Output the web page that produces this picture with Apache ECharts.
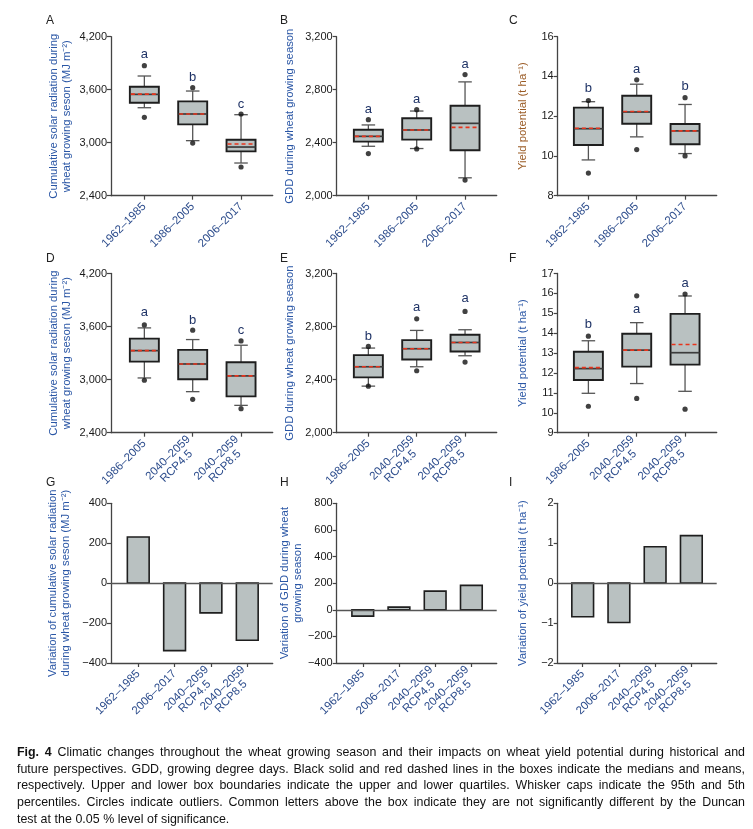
<!DOCTYPE html>
<html><head><meta charset="utf-8">
<script src="https://cdn.jsdelivr.net/npm/echarts@6/dist/echarts.min.js"></script>
<style>html,body{margin:0;padding:0;background:#fff}#c{width:753px;height:829px}</style>
</head><body><div id="c"></div>
<script>
// ---------- categories ----------
const histCats = ['1962–1985', '1986–2005', '2006–2017'];
const futCats = ['1986–2005', '2040–2059\nRCP4.5', '2040–2059\nRCP8.5'];
const varCats = ['1962–1985', '2006–2017', '2040–2059\nRCP4.5', '2040–2059\nRCP8.5'];

// ---------- box statistics: [5th pct, Q1, median, Q3, 95th pct, mean] ----------
const solarHistBox = [[3396, 3453, 3547, 3634, 3755, 3550], [3023, 3208, 3325, 3468, 3585, 3325], [2770, 2902, 2951, 3034, 3317, 2985]];
const gddHistBox = [[2373, 2408, 2448, 2498, 2534, 2448], [2356, 2423, 2496, 2584, 2639, 2496], [2135, 2343, 2546, 2679, 2859, 2516]];
const yieldHistBox = [[9.80, 10.55, 11.37, 12.43, 12.73, 11.39], [10.96, 11.62, 12.21, 13.03, 13.61, 12.24], [10.12, 10.59, 11.26, 11.61, 12.59, 11.26]];
const solarFutBox = [[3019, 3204, 3328, 3464, 3585, 3328], [2864, 3004, 3177, 3336, 3453, 3177], [2709, 2811, 3042, 3196, 3389, 3042]];
const gddFutBox = [[2351, 2417, 2497, 2585, 2638, 2497], [2497, 2552, 2633, 2698, 2771, 2633], [2580, 2612, 2680, 2738, 2776, 2680]];
const yieldFutBox = [[10.98, 11.65, 12.22, 13.07, 13.62, 12.27], [11.47, 12.32, 13.15, 13.97, 14.53, 13.15], [11.08, 12.42, 13.02, 14.97, 15.87, 13.43]];

// ---------- outliers (per category) ----------
const solarHistOut = [[3872, 3287], [3623, 2996], [3325, 2725]];
const gddHistOut = [[2574, 2318], [2649, 2353], [2914, 2118]];
const yieldHistOut = [[12.79, 9.14], [13.83, 10.32], [12.93, 10.00]];
const solarFutOut = [[3619, 2993], [3559, 2777], [3438, 2672]];
const gddFutOut = [[2650, 2351], [2858, 2467], [2914, 2532]];
const yieldFutOut = [[13.85, 10.33], [15.88, 10.72], [15.97, 10.18]];

// ---------- significance letters and their heights ----------
const solarHistSig = ['a', 'b', 'c'];   const solarHistSigY = [4000, 3736, 3430];
const gddHistSig = ['a', 'a', 'a'];     const gddHistSigY = [2649, 2726, 2994];
const yieldHistSig = ['b', 'a', 'b'];   const yieldHistSigY = [13.38, 14.36, 13.51];
const solarFutSig = ['a', 'b', 'c'];    const solarFutSigY = [3762, 3668, 3562];
const gddFutSig = ['b', 'a', 'a'];      const gddFutSigY = [2723, 2941, 3009];
const yieldFutSig = ['b', 'a', 'a'];    const yieldFutSigY = [14.43, 15.2, 16.48];

// ---------- variations (bars) ----------
const solarVar = [231, -338, -149, -286];
const gddVar = [-48, 20, 140, 183];
const yieldVar = [-0.84, -0.985, 0.91, 1.19];

// ---------- axis ticks [min, max, interval] ----------
const solarTicks = [2400, 4200, 600];
const gddTicks = [2000, 3200, 400];
const yieldHistTicks = [8, 16, 2];
const yieldFutTicks = [9, 17, 1];
const solarVarTicks = [-400, 400, 200];
const gddVarTicks = [-400, 800, 200];
const yieldVarTicks = [-2, 2, 1];

const captionLines = [
  'Fig. 4  Climatic changes throughout the wheat growing season and their impacts on wheat yield potential during historical and',
  'future perspectives.  GDD, growing degree days.  Black solid and red dashed lines in the boxes indicate the medians and means,',
  'respectively.  Upper and lower box boundaries indicate the upper and lower quartiles.  Whisker caps indicate the 95th and 5th',
  'percentiles.  Circles indicate outliers.  Common letters above the box indicate they are not significantly different by the Duncan',
  'test at the 0.05 % level of significance.'
];

// ---------- styling / layout ----------
const FONT = "'Liberation Sans', Arial, sans-serif";
const BLUE = '#2a56a5';
const XLAB = '#2c4c8c';
const AXC = '#444';
const colLeft = [111, 336.7, 557.7];
const colWidth = [161.7, 160, 159];
const rowTop = [36.7, 273.5, 503.3];
const rowHeight = [159, 159.2, 159.7];
const boxMin = [0.31, 0.345, 0.365];
const barMin = [0.25, 0.28, 0.31];

const grids = [], xAxes = [], yAxes = [], series = [];

const fmtComma = v => (v < 0 ? '−' : '') + Math.abs(v).toLocaleString('en-US');
const fmtPlain = v => (v < 0 ? '−' : '') + Math.abs(v);

function addPanel(gi, row, col, cats, isBar, ticks, fmt, yName, nameGap, nameColor) {
  grids.push({ left: colLeft[col], top: rowTop[row], width: colWidth[col], height: rowHeight[row] });
  const vals = cats.map((c, i) => i + 1);
  xAxes.push({
    type: 'value', gridIndex: gi,
    min: isBar ? barMin[col] : boxMin[col], max: isBar ? 4.70 : 3.655,
    axisLine: { show: true, onZero: false, lineStyle: { color: AXC, width: 1.3 } },
    axisTick: { show: true, length: 4, customValues: vals, lineStyle: { color: AXC, width: 1.2 } },
    axisLabel: {
      customValues: vals, rotate: 45, margin: 9,
      formatter: v => (cats[Math.round(v) - 1] || '').split('\n').map(s => '{c|' + s + '}').join('\n'),
      rich: { c: { align: 'center', fontSize: 11.5, lineHeight: 12, color: XLAB, fontFamily: FONT } }
    },
    splitLine: { show: false }
  });
  yAxes.push({
    type: 'value', gridIndex: gi, min: ticks[0], max: ticks[1], interval: ticks[2],
    name: yName, nameLocation: 'middle', nameGap: nameGap,
    nameTextStyle: { fontSize: 11.3, lineHeight: 13, color: nameColor, fontFamily: FONT },
    axisLine: { show: true, onZero: false, lineStyle: { color: AXC, width: 1.3 } },
    axisTick: { show: true, length: 4, lineStyle: { color: AXC, width: 1.2 } },
    axisLabel: { fontSize: 11, color: '#1a1a1a', margin: 4, fontFamily: FONT, formatter: fmt },
    splitLine: { show: false }
  });
}

function addBoxes(gi, box, outs, sig, sigY) {
  series.push({
    type: 'custom', xAxisIndex: gi, yAxisIndex: gi,
    data: box.map((b, i) => [i + 1].concat(b)),
    renderItem: function (params, api) {
      const x = api.value(0);
      const cx = api.coord([x, api.value(3)])[0];
      const y = i => api.coord([x, api.value(i)])[1];
      const half = api.size([0.6, 0])[0] / 2;
      const cap = api.size([0.28, 0])[0] / 2;
      const wl = y(1), q1 = y(2), md = y(3), q3 = y(4), wh = y(5), mn = y(6);
      const wStyle = { stroke: '#555', lineWidth: 1.3 };
      return {
        type: 'group', children: [
          { type: 'line', shape: { x1: cx, y1: q3, x2: cx, y2: wh }, style: wStyle },
          { type: 'line', shape: { x1: cx, y1: q1, x2: cx, y2: wl }, style: wStyle },
          { type: 'line', shape: { x1: cx - cap, y1: wh, x2: cx + cap, y2: wh }, style: wStyle },
          { type: 'line', shape: { x1: cx - cap, y1: wl, x2: cx + cap, y2: wl }, style: wStyle },
          { type: 'rect', shape: { x: cx - half, y: q3, width: 2 * half, height: q1 - q3 },
            style: { fill: '#b9c1c1', stroke: '#1e1e1e', lineWidth: 1.9 } },
          { type: 'line', shape: { x1: cx - half, y1: md, x2: cx + half, y2: md }, style: { stroke: '#3c3c3c', lineWidth: 1.7 } },
          { type: 'line', shape: { x1: cx - half + 1, y1: mn, x2: cx + half - 1, y2: mn },
            style: { stroke: '#e8341c', lineWidth: 1.6, lineDash: [4, 3] } }
        ]
      };
    },
    z: 2
  });
  const pts = [];
  outs.forEach((o, i) => o.forEach(v => pts.push([i + 1, v])));
  series.push({
    type: 'scatter', xAxisIndex: gi, yAxisIndex: gi, data: pts,
    symbol: 'circle', symbolSize: 5.2, itemStyle: { color: '#111' }, z: 3
  });
  series.push({
    type: 'custom', xAxisIndex: gi, yAxisIndex: gi,
    data: sig.map((s, i) => [i + 1, sigY[i]]),
    renderItem: function (params, api) {
      const p = api.coord([api.value(0), api.value(1)]);
      return { type: 'text', x: p[0], y: p[1],
        style: { text: sig[params.dataIndex], fill: '#1f3366', font: '13px ' + FONT, align: 'center', verticalAlign: 'middle' } };
    },
    z: 4
  });
}

function addBars(gi, vals) {
  series.push({
    type: 'custom', xAxisIndex: gi, yAxisIndex: gi,
    data: vals.map((v, i) => [i + 1, v]),
    renderItem: function (params, api) {
      const x = api.value(0), v = api.value(1);
      const p0 = api.coord([x - 0.3, 0]);
      const p1 = api.coord([x + 0.3, v]);
      return { type: 'rect',
        shape: { x: p0[0], y: Math.min(p0[1], p1[1]), width: p1[0] - p0[0], height: Math.abs(p1[1] - p0[1]) },
        style: { fill: '#b9c1c1', stroke: '#1e1e1e', lineWidth: 1.6 } };
    },
    markLine: {
      silent: true, symbol: 'none', label: { show: false },
      lineStyle: { color: '#555', width: 1.3, type: 'solid' },
      data: [{ yAxis: 0 }]
    },
    z: 2
  });
}

const solarName = 'Cumulative solar radiation during\nwheat growing seson (MJ m⁻²)';
const gddName = 'GDD during wheat growing season';
const yieldName = 'Yield potential (t ha⁻¹)';

addPanel(0, 0, 0, histCats, false, solarTicks, fmtComma, solarName, 38, BLUE);
addBoxes(0, solarHistBox, solarHistOut, solarHistSig, solarHistSigY);
addPanel(1, 0, 1, histCats, false, gddTicks, fmtComma, gddName, 40, BLUE);
addBoxes(1, gddHistBox, gddHistOut, gddHistSig, gddHistSigY);
addPanel(2, 0, 2, histCats, false, yieldHistTicks, fmtPlain, yieldName, 28, '#9a5b25');
addBoxes(2, yieldHistBox, yieldHistOut, yieldHistSig, yieldHistSigY);

addPanel(3, 1, 0, futCats, false, solarTicks, fmtComma, solarName, 38, BLUE);
addBoxes(3, solarFutBox, solarFutOut, solarFutSig, solarFutSigY);
addPanel(4, 1, 1, futCats, false, gddTicks, fmtComma, gddName, 40, BLUE);
addBoxes(4, gddFutBox, gddFutOut, gddFutSig, gddFutSigY);
addPanel(5, 1, 2, futCats, false, yieldFutTicks, fmtPlain, yieldName, 28, BLUE);
addBoxes(5, yieldFutBox, yieldFutOut, yieldFutSig, yieldFutSigY);

addPanel(6, 2, 0, varCats, true, solarVarTicks, fmtComma, 'Variation of cumulative solar radiation\nduring wheat growing seson (MJ m⁻²)', 39, BLUE);
addBars(6, solarVar);
addPanel(7, 2, 1, varCats, true, gddVarTicks, fmtComma, 'Variation of GDD during wheat\ngrowing season', 32, BLUE);
addBars(7, gddVar);
addPanel(8, 2, 2, varCats, true, yieldVarTicks, fmtPlain, 'Variation of yield potential (t ha⁻¹)', 28, BLUE);
addBars(8, yieldVar);

// ---------- panel letters ----------
const panelLetters = ['A', 'B', 'C', 'D', 'E', 'F', 'G', 'H', 'I'];
const letterX = [46, 280, 509];
const letterY = [22, 260, 484];
const graphics = panelLetters.map((L, i) => ({
  type: 'text', left: letterX[i % 3], top: letterY[Math.floor(i / 3)] - 7,
  style: { text: L, fill: '#222', font: '12px ' + FONT }
}));

// ---------- caption (justified, slightly condensed) ----------
const CAP_SIZE = 13.5;
const CAP_SCALE = 0.92;
const capLeft = 17, capRight = 745, capTop = 752, capLH = 16.8;
const mctx = document.createElement('canvas').getContext('2d');
captionLines.forEach((line, li) => {
  const words = line.split(/\s+/);
  const fonts = words.map((w, wi) => (li === 0 && wi < 2 ? 'bold ' : '') + CAP_SIZE + 'px ' + FONT);
  const widths = words.map((w, wi) => { mctx.font = fonts[wi]; return mctx.measureText(w).width * CAP_SCALE; });
  const total = widths.reduce((a, b) => a + b, 0);
  const last = li === captionLines.length - 1;
  const gap = last ? 3.6 : (capRight - capLeft - total) / (words.length - 1);
  let x = capLeft;
  words.forEach((w, wi) => {
    graphics.push({ type: 'text', x: x, y: capTop + li * capLH, scaleX: CAP_SCALE,
      style: { text: w, font: fonts[wi], fill: '#111', align: 'left', verticalAlign: 'middle' } });
    x += widths[wi] + gap;
  });
});

const chart = echarts.init(document.getElementById('c'), null, { renderer: 'canvas' });
chart.setOption({
  backgroundColor: '#fff',
  animation: false,
  grid: grids,
  xAxis: xAxes,
  yAxis: yAxes,
  series: series,
  graphic: graphics
});
</script></body></html>
